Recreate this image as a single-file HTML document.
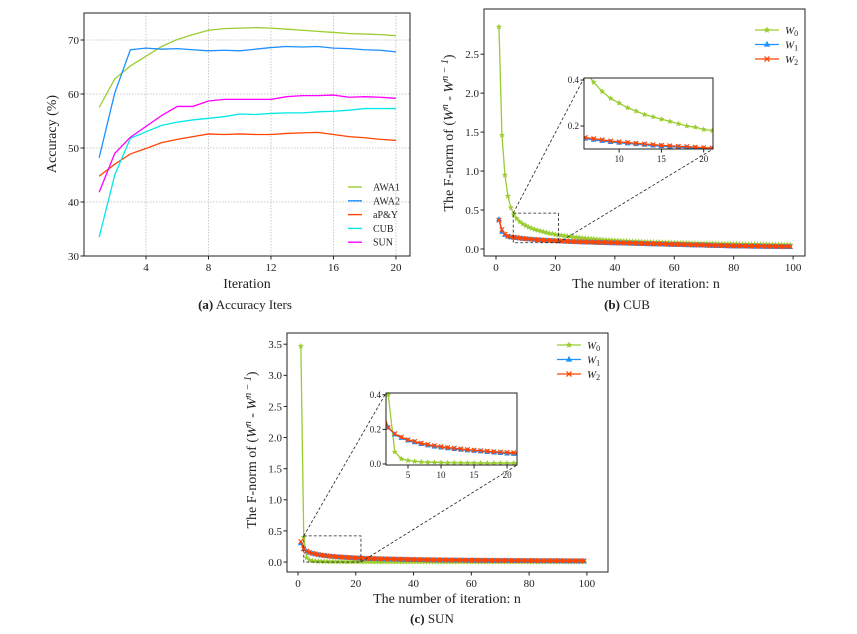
<!DOCTYPE html>
<html><head><meta charset="utf-8"><style>
html,body{margin:0;padding:0;background:#fff;}
svg text{font-family:"Liberation Serif",serif;fill:#222;}
</style></head><body>
<svg id="fig" width="857" height="629" viewBox="0 0 857 629" xmlns="http://www.w3.org/2000/svg">
<defs>
<clipPath id="cpa"><rect x="84" y="13" width="326" height="243"/></clipPath>
<clipPath id="cpb"><rect x="484" y="9" width="321" height="247"/></clipPath>
<clipPath id="cpbi"><rect x="584" y="78" width="129" height="71"/></clipPath>
<clipPath id="cpc"><rect x="287" y="333" width="321" height="239"/></clipPath>
<clipPath id="cpci"><rect x="386" y="393" width="131" height="72"/></clipPath>
</defs>
</svg>
<script>
// ---- Panel (a) data ----
const iters = [1,2,3,4,5,6,7,8,9,10,11,12,13,14,15,16,17,18,19,20];
const accAWA1 = [57.5,62.8,65.2,67,68.8,70.1,71,71.8,72.1,72.2,72.3,72.2,72,71.8,71.6,71.4,71.2,71.1,71,70.8];
const accAWA2 = [48.2,60.2,68.2,68.5,68.3,68.4,68.2,68,68.1,68,68.3,68.6,68.8,68.7,68.8,68.5,68.4,68.2,68.1,67.8];
const accAPY = [44.8,47,48.9,49.9,51,51.6,52.1,52.6,52.5,52.6,52.5,52.5,52.7,52.8,52.9,52.5,52.1,51.9,51.6,51.4];
const accCUB = [33.5,45,51.8,53,54.2,54.8,55.2,55.5,55.8,56.3,56.2,56.4,56.5,56.5,56.7,56.8,57,57.3,57.3,57.3];
const accSUN = [41.8,49,52,54,56,57.7,57.7,58.7,59,59,59,59,59.5,59.7,59.7,59.8,59.4,59.5,59.4,59.2];
const aXTicks = [4,8,12,16,20];
const aYTicks = [30,40,50,60,70];
const aLegend = ["AWA1","AWA2","aP&Y","CUB","SUN"];
// ---- Panel (b) CUB data ----
const cubW0 = [2.85,1.46,0.95,0.68,0.53,0.44,0.39,0.35,0.32,0.30,0.28,0.265,0.25,0.24,0.23,0.22,0.21,0.20,0.195,0.185,0.18,
0.175,0.17,0.165,0.16,0.155,0.15,0.146,0.142,0.138,0.134,0.131,0.128,0.125,0.122,0.119,0.117,0.114,0.112,0.11,
0.108,0.106,0.104,0.102,0.1,0.098,0.097,0.095,0.094,0.092,0.091,0.09,0.088,0.087,0.086,0.085,0.084,0.083,0.082,0.081,
0.08,0.079,0.078,0.077,0.076,0.075,0.074,0.073,0.072,0.072,0.071,0.07,0.069,0.068,0.068,0.067,0.066,0.066,0.065,0.064,
0.064,0.063,0.062,0.062,0.061,0.06,0.06,0.059,0.059,0.058,0.058,0.057,0.057,0.056,0.056,0.055,0.055,0.054,0.054];
const cubW1 = [0.38,0.22,0.18,0.16,0.15,0.145,0.14,0.135,0.13,0.127,0.124,0.121,0.118,0.115,0.112,0.11,0.108,0.106,0.104,0.102,0.1,
0.098,0.096,0.094,0.092,0.09,0.089,0.087,0.086,0.084,0.083,0.082,0.08,0.079,0.078,0.077,0.076,0.075,0.074,0.073,
0.072,0.071,0.07,0.069,0.068,0.067,0.066,0.065,0.064,0.063,0.062,0.061,0.06,0.059,0.058,0.057,0.056,0.055,0.054,0.053,
0.052,0.051,0.05,0.049,0.048,0.047,0.046,0.045,0.044,0.043,0.042,0.041,0.04,0.039,0.038,0.037,0.036,0.035,0.034,0.033,
0.033,0.032,0.032,0.031,0.031,0.03,0.03,0.029,0.029,0.028,0.028,0.027,0.027,0.026,0.026,0.025,0.025,0.024,0.024];
const cubW2 = [0.37,0.25,0.19,0.165,0.155,0.15,0.145,0.14,0.135,0.131,0.128,0.125,0.122,0.119,0.116,0.114,0.112,0.11,0.108,0.106,0.104,
0.102,0.1,0.098,0.097,0.095,0.094,0.092,0.091,0.09,0.089,0.088,0.087,0.086,0.085,0.084,0.083,0.082,0.081,0.08,
0.079,0.078,0.077,0.076,0.075,0.074,0.073,0.072,0.071,0.07,0.069,0.068,0.067,0.066,0.065,0.064,0.063,0.062,0.061,0.06,
0.059,0.058,0.057,0.056,0.055,0.054,0.053,0.052,0.051,0.05,0.049,0.048,0.047,0.046,0.045,0.044,0.043,0.042,0.041,0.04,
0.04,0.039,0.039,0.038,0.038,0.037,0.037,0.036,0.036,0.035,0.035,0.034,0.034,0.033,0.033,0.032,0.032,0.031,0.031];
// ---- Panel (c) SUN data ----
const sunW0 = [3.47,0.40,0.07,0.03,0.02,0.015,0.012,0.01,0.009,0.008,0.007,0.007,0.006,0.006,0.006,0.005,0.005,0.005,0.005,0.005,0.005,
0.005,0.005,0.005,0.005,0.004,0.004,0.004,0.004,0.004,0.004,0.004,0.004,0.004,0.004,0.004,0.004,0.004,0.004,0.004,
0.004,0.004,0.004,0.004,0.004,0.004,0.004,0.004,0.004,0.004,0.004,0.004,0.004,0.004,0.004,0.004,0.004,0.004,0.004,0.004,
0.003,0.003,0.003,0.003,0.003,0.003,0.003,0.003,0.003,0.003,0.003,0.003,0.003,0.003,0.003,0.003,0.003,0.003,0.003,0.003,
0.003,0.003,0.003,0.003,0.003,0.003,0.003,0.003,0.003,0.003,0.003,0.003,0.003,0.003,0.003,0.003,0.003,0.003,0.003];
const sunW1 = [0.30,0.21,0.17,0.15,0.135,0.125,0.115,0.107,0.1,0.095,0.09,0.086,0.082,0.078,0.075,0.072,0.069,0.066,0.063,0.06,0.058,
0.056,0.054,0.052,0.05,0.049,0.047,0.046,0.044,0.043,0.042,0.041,0.04,0.039,0.038,0.037,0.036,0.035,0.034,0.033,
0.032,0.031,0.031,0.03,0.029,0.029,0.028,0.027,0.027,0.026,0.026,0.025,0.025,0.024,0.024,0.023,0.023,0.022,0.022,0.021,
0.021,0.021,0.02,0.02,0.02,0.019,0.019,0.019,0.018,0.018,0.018,0.017,0.017,0.017,0.016,0.016,0.016,0.016,0.015,0.015,
0.015,0.015,0.014,0.014,0.014,0.014,0.013,0.013,0.013,0.013,0.013,0.012,0.012,0.012,0.012,0.012,0.011,0.011,0.011];
const sunW2 = [0.33,0.21,0.175,0.155,0.14,0.13,0.12,0.112,0.106,0.1,0.095,0.091,0.087,0.083,0.08,0.077,0.074,0.071,0.069,0.067,0.065,
0.063,0.061,0.059,0.058,0.056,0.055,0.053,0.052,0.051,0.05,0.049,0.048,0.047,0.046,0.045,0.044,0.043,0.042,0.041,
0.04,0.04,0.039,0.038,0.038,0.037,0.036,0.036,0.035,0.035,0.034,0.034,0.033,0.033,0.032,0.032,0.031,0.031,0.03,0.03,
0.03,0.029,0.029,0.029,0.028,0.028,0.028,0.027,0.027,0.027,0.026,0.026,0.026,0.026,0.025,0.025,0.025,0.025,0.024,0.024,
0.024,0.024,0.023,0.023,0.023,0.023,0.023,0.022,0.022,0.022,0.022,0.022,0.021,0.021,0.021,0.021,0.021,0.02,0.02];
const normXTicks = [0,20,40,60,80,100];
const bYTicks = [0.0,0.5,1.0,1.5,2.0,2.5];
const cYTicks = [0.0,0.5,1.0,1.5,2.0,2.5,3.0,3.5];
const bInsetXTicks = [10,15,20];
const bInsetYTicks = [0.2,0.4];
const cInsetXTicks = [5,10,15,20];
const cInsetYTicks = [0.0,0.2,0.4];

const NS="http://www.w3.org/2000/svg";
const svg=document.getElementById('fig');
const GREEN="#9acd32", BLUE="#1e90ff", RED="#ff4500", CYAN="#00e8e8", MAG="#ff00ff";
function el(tag,attrs,parent){const e=document.createElementNS(NS,tag);for(const k in attrs)e.setAttribute(k,attrs[k]);(parent||svg).appendChild(e);return e;}
function axis(box,lim){
  return {sx:v=>box.x0+(v-lim.x0)/(lim.x1-lim.x0)*(box.x1-box.x0),
          sy:v=>box.y1-(v-lim.y0)/(lim.y1-lim.y0)*(box.y1-box.y0)};
}
function frame(box,name){
  const r=el('rect',{x:box.x0,y:box.y0,width:box.x1-box.x0,height:box.y1-box.y0,fill:'none',stroke:'#222','stroke-width':1});
  
  
}
function ticks(box,ax,xt,yt,fmt,fs,name,grid){
  const g=el('g',{});
  
  
  xt.forEach(t=>{const x=ax.sx(t);
    if(grid)el('line',{x1:x,x2:x,y1:box.y0,y2:box.y1,stroke:'#bbb','stroke-dasharray':'1.5,1.5','stroke-width':0.8},g);
    el('line',{x1:x,x2:x,y1:box.y1,y2:box.y1+3.5,stroke:'#222'},g);
    const t1=el('text',{x:x,y:box.y1+4+fs,'font-size':fs,'text-anchor':'middle'},g);t1.textContent=String(t);});
  yt.forEach(t=>{const y=ax.sy(t);
    if(grid)el('line',{x1:box.x0,x2:box.x1,y1:y,y2:y,stroke:'#bbb','stroke-dasharray':'1.5,1.5','stroke-width':0.8},g);
    el('line',{x1:box.x0-3.5,x2:box.x0,y1:y,y2:y,stroke:'#222'},g);
    const t1=el('text',{x:box.x0-5,y:y+fs*0.35,'font-size':fs,'text-anchor':'end'},g);t1.textContent=fmt(t);});
}
function marker(type,x,y,c,s,g){
  if(type==='star'){let p=[];for(let i=0;i<10;i++){const r=i%2?s*0.45:s;const a=-Math.PI/2+i*Math.PI/5;p.push((x+r*Math.cos(a)).toFixed(1)+','+(y+r*Math.sin(a)).toFixed(1));}
    el('polygon',{points:p.join(' '),fill:c},g);}
  else if(type==='tri'){el('polygon',{points:`${x},${y-s} ${x-s*0.9},${y+s*0.6} ${x+s*0.9},${y+s*0.6}`,fill:c},g);}
  else if(type==='x'){const d=s*0.7;el('path',{d:`M${x-d},${y-d}L${x+d},${y+d}M${x-d},${y+d}L${x+d},${y-d}`,stroke:c,'stroke-width':1.2,fill:'none'},g);}
}
function series(ax,xs,ys,c,mk,clip,name,ms){
  const g=el('g',{'clip-path':`url(#${clip})`});
  
  
  const pts=xs.map((x,i)=>ax.sx(x).toFixed(2)+','+ax.sy(ys[i]).toFixed(2));
  el('polyline',{points:pts.join(' '),fill:'none',stroke:c,'stroke-width':1.3},g);
  if(mk)xs.forEach((x,i)=>marker(mk,ax.sx(x),ax.sy(ys[i]),c,ms||3.2,g));
}
function label(x,y,txt,fs,name,rot,anchor){
  const t=el('text',{x:x,y:y,'font-size':fs,'text-anchor':anchor||'middle'});
  if(rot)t.setAttribute('transform',`rotate(-90 ${x} ${y})`);
  t.textContent=txt;
  
  
  return t;
}
function caption(cx,y,tag,rest,name){
  const t=el('text',{x:cx,y:y,'font-size':13,'text-anchor':'middle'});
  
  
  const b=el('tspan',{'font-weight':'bold'},t);b.textContent=tag;
  const r=el('tspan',{},t);r.textContent=' '+rest;
}
function normYLabel(x,y,name){
  const t=el('text',{x:x,y:y,'font-size':14,'text-anchor':'middle',transform:`rotate(-90 ${x} ${y})`});
  
  
  const parts=[["The F-norm of (",null],["W","i"],["n","s"],[" - ",null],["W","i"],["n − 1","s"],[")",null]];
  parts.forEach(p=>{const s=el('tspan',{},t);s.textContent=p[0];
    if(p[1]==='i')s.setAttribute('font-style','italic');
    if(p[1]==='s'){s.setAttribute('font-size',10);s.setAttribute('dy',-5);s.setAttribute('font-style','italic');}
    else if(p[1]==='i'||p[1]===null){ if(s.previousSibling&&s.previousSibling.getAttribute('dy')==='-5')s.setAttribute('dy',5);} });
}
function normLegend(x,y,name){
  const g=el('g',{});
  
  
  const items=[["star",GREEN,"0"],["tri",BLUE,"1"],["x",RED,"2"]];
  items.forEach((it,i)=>{const yy=y+i*14.5;
    el('line',{x1:x,x2:x+24,y1:yy,y2:yy,stroke:it[1],'stroke-width':1.3},g);
    marker(it[0],x+12,yy,it[1],3.6,g);
    const t=el('text',{x:x+30,y:yy+4,'font-size':11,'font-style':'italic','font-family':'Liberation Sans, sans-serif'},g);
    t.textContent='W';const s=el('tspan',{'font-size':8,dy:2,'font-style':'normal'},t);s.textContent=it[2];});
}
const f1=v=>v.toFixed(1);
const nIdx=cubW0.map((_,i)=>i+1);

// ===== Panel (a) =====
const boxA={x0:84,y0:13,x1:410,y1:256};
const axA=axis(boxA,{x0:0.03,x1:20.9,y0:30,y1:75});
ticks(boxA,axA,aXTicks,aYTicks,v=>String(v),11,'panel-a-ticks',true);
const aSeries=[accAWA1,accAWA2,accAPY,accCUB,accSUN];
const aColors=[GREEN,BLUE,RED,CYAN,MAG];
aSeries.forEach((s,i)=>series(axA,iters,s,aColors[i],null,'cpa','line-'+aLegend[i].toLowerCase().replace(/[^a-z0-9]/g,'')));
frame(boxA,'panel-a-frame');
const legA=el('g',{});


aLegend.forEach((n,i)=>{const yy=187+i*13.8;
  el('line',{x1:348,x2:362,y1:yy,y2:yy,stroke:aColors[i],'stroke-width':1.4},legA);
  const t=el('text',{x:373,y:yy+3.5,'font-size':10},legA);t.textContent=n;});
label(56,134,'Accuracy (%)',14,'panel-a-y-axis-title',true);
label(247,288,'Iteration',14,'panel-a-x-axis-title');
caption(245,309,'(a)','Accuracy Iters','panel-a-caption');

// ===== Panel (b) =====
const boxB={x0:484,y0:9,x1:805,y1:256};
const axB=axis(boxB,{x0:-4.04,x1:104,y0:-0.09,y1:3.08});
ticks(boxB,axB,normXTicks,bYTicks,f1,11,'panel-b-ticks',false);
series(axB,nIdx,cubW0,GREEN,'star','cpb','cub-w0-series');
series(axB,nIdx,cubW1,BLUE,'tri','cpb','cub-w1-series');
series(axB,nIdx,cubW2,RED,'x','cpb','cub-w2-series');
frame(boxB,'panel-b-frame');
const zb=el('g',{fill:'none',stroke:'#222','stroke-dasharray':'3,2','stroke-width':0.8});


el('rect',{x:axB.sx(5.8),y:axB.sy(0.46),width:axB.sx(21)-axB.sx(5.8),height:axB.sy(0.08)-axB.sy(0.46)},zb);
el('line',{x1:axB.sx(5.8),y1:axB.sy(0.46),x2:584,y2:78},zb);
el('line',{x1:axB.sx(21),y1:axB.sy(0.08),x2:713,y2:149},zb);
const boxBi={x0:584,y0:78,x1:713,y1:149};
el('rect',{x:584,y:78,width:129,height:71,fill:'#fff'});
const axBi=axis(boxBi,{x0:5.85,x1:21.1,y0:0.1,y1:0.409});
ticks(boxBi,axBi,bInsetXTicks,bInsetYTicks,f1,9,'cub-inset-ticks',false);
series(axBi,nIdx,cubW0,GREEN,'star','cpbi','cub-inset-w0');
series(axBi,nIdx,cubW1,BLUE,'tri','cpbi','cub-inset-w1');
series(axBi,nIdx,cubW2,RED,'x','cpbi','cub-inset-w2');
frame(boxBi,'cub-inset-frame');
normLegend(755,30,'panel-b-legend');
normYLabel(453,133,'panel-b-y-axis-title');
label(646,288,'The number of iteration: n',14,'panel-b-x-axis-title');
caption(627,309,'(b)','CUB','panel-b-caption');

// ===== Panel (c) =====
const boxC={x0:287,y0:333,x1:608,y1:572};
const axC=axis(boxC,{x0:-3.8,x1:107.3,y0:-0.16,y1:3.68});
ticks(boxC,axC,normXTicks,cYTicks,f1,11,'panel-c-ticks',false);
series(axC,nIdx,sunW0,GREEN,'star','cpc','sun-w0-series');
series(axC,nIdx,sunW1,BLUE,'tri','cpc','sun-w1-series');
series(axC,nIdx,sunW2,RED,'x','cpc','sun-w2-series');
frame(boxC,'panel-c-frame');
const zc=el('g',{fill:'none',stroke:'#222','stroke-dasharray':'3,2','stroke-width':0.8});


el('rect',{x:axC.sx(2),y:axC.sy(0.42),width:axC.sx(21.8)-axC.sx(2),height:axC.sy(0)-axC.sy(0.42)},zc);
el('line',{x1:axC.sx(2),y1:axC.sy(0.42),x2:386,y2:393},zc);
el('line',{x1:axC.sx(21.8),y1:axC.sy(0),x2:517,y2:465},zc);
const boxCi={x0:386,y0:393,x1:517,y1:465};
el('rect',{x:386,y:393,width:131,height:72,fill:'#fff'});
const axCi=axis(boxCi,{x0:1.67,x1:21.5,y0:-0.006,y1:0.41});
ticks(boxCi,axCi,cInsetXTicks,cInsetYTicks,f1,9,'sun-inset-ticks',false);
series(axCi,nIdx,sunW0,GREEN,'star','cpci','sun-inset-w0');
series(axCi,nIdx,sunW1,BLUE,'tri','cpci','sun-inset-w1');
series(axCi,nIdx,sunW2,RED,'x','cpci','sun-inset-w2');
frame(boxCi,'sun-inset-frame');
normLegend(557,345,'panel-c-legend');
normYLabel(256,450,'panel-c-y-axis-title');
label(447,603,'The number of iteration: n',14,'panel-c-x-axis-title');
caption(432,623,'(c)','SUN','panel-c-caption');
</script>
</body></html>
